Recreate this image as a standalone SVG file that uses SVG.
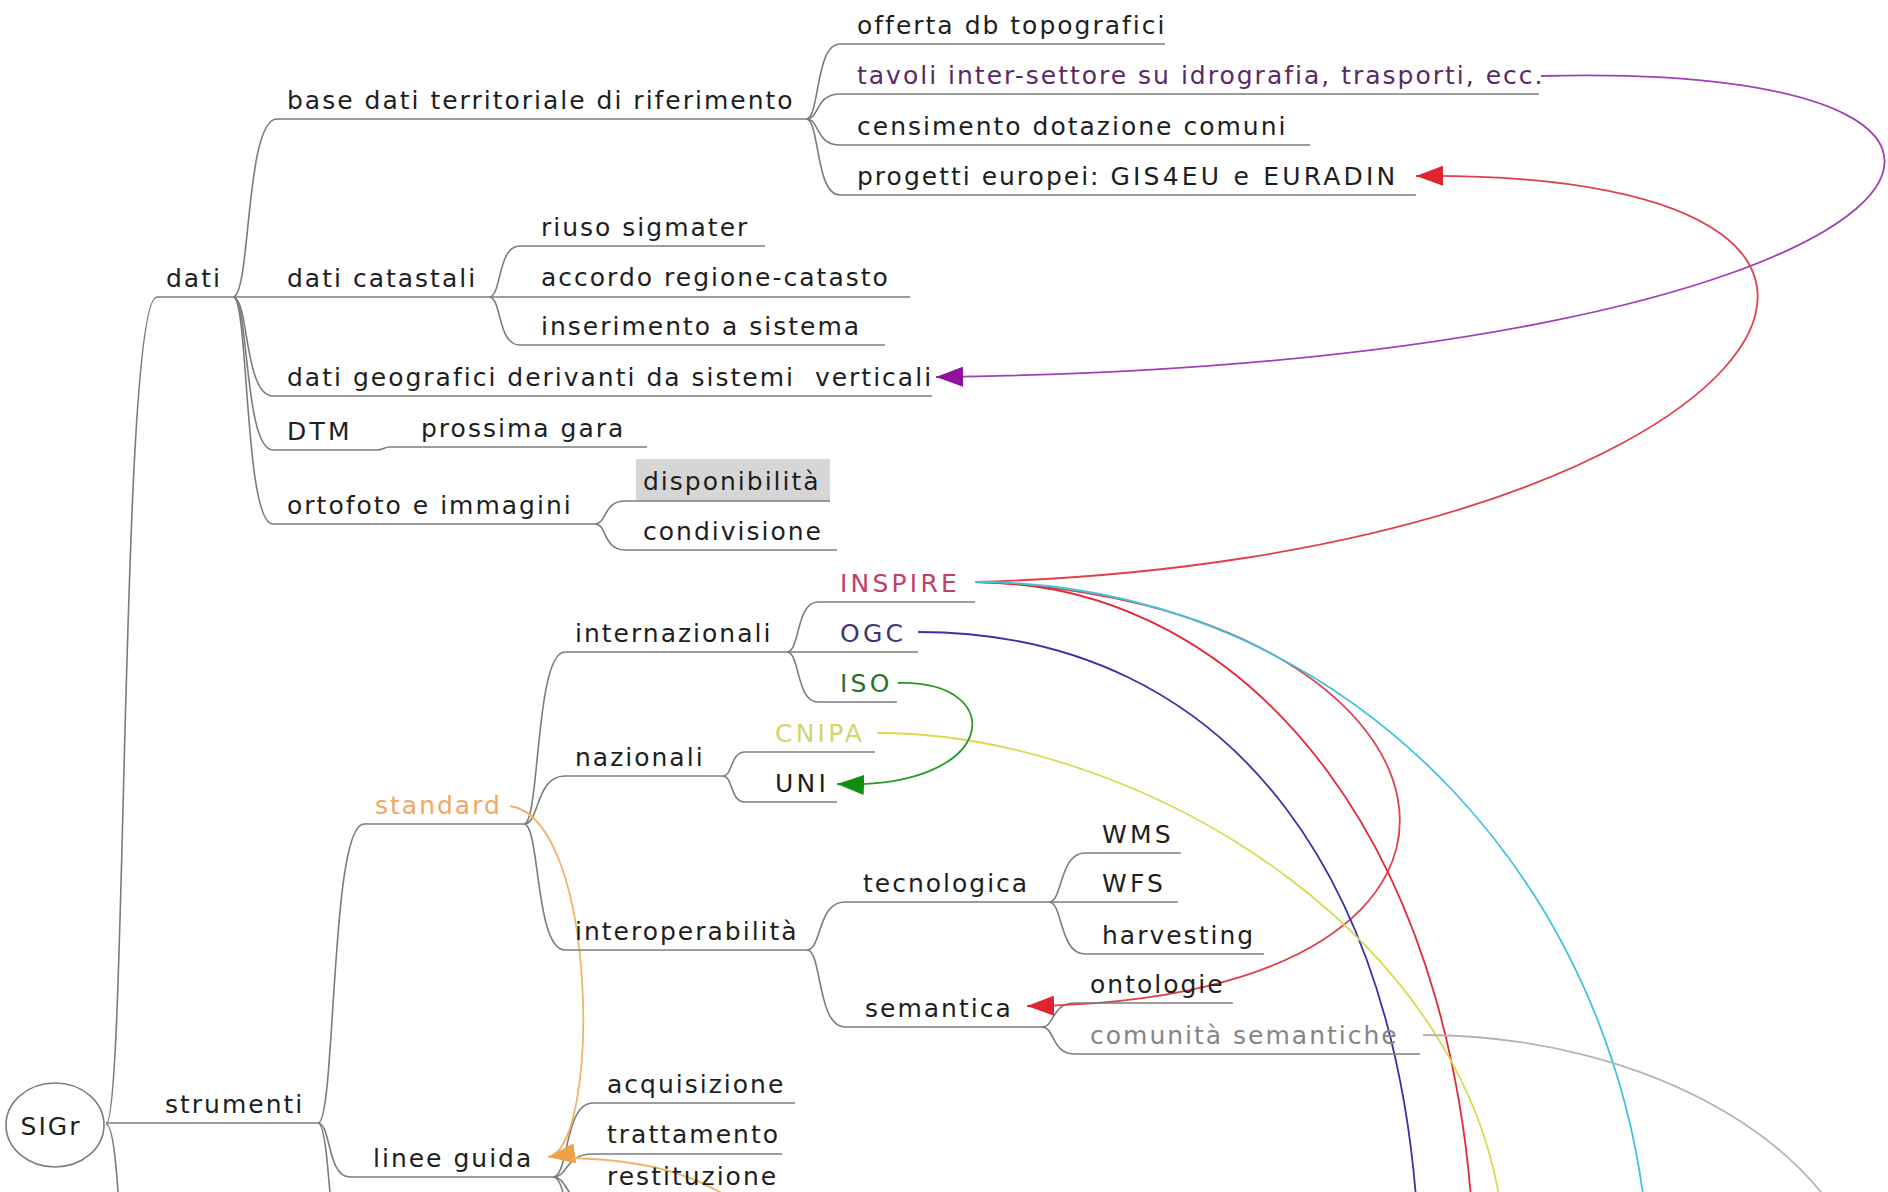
<svg xmlns="http://www.w3.org/2000/svg" width="1888" height="1192" viewBox="0 0 1888 1192">
<defs>
<style>
.t{font-family:"DejaVu Sans","Liberation Sans",sans-serif;font-size:25px;letter-spacing:2px;fill:#1e1e1e}
.caps{letter-spacing:3.2px}
.ul{fill:none;stroke:#7c7c7c;stroke-width:1.6}
.br{fill:none;stroke:#7c7c7c;stroke-width:1.6}
.rel{fill:none;stroke-width:1.8}
</style>
<marker id="aPurple" viewBox="0 0 27 20" refX="27" refY="10" markerWidth="27" markerHeight="20" markerUnits="userSpaceOnUse" orient="auto"><path d="M0,0 L27,10 L0,20 z" fill="#9010a0"/></marker>
<marker id="aRed" viewBox="0 0 27 20" refX="27" refY="10" markerWidth="27" markerHeight="20" markerUnits="userSpaceOnUse" orient="auto"><path d="M0,0 L27,10 L0,20 z" fill="#e02430"/></marker>
<marker id="aGreen" viewBox="0 0 27 20" refX="27" refY="10" markerWidth="27" markerHeight="20" markerUnits="userSpaceOnUse" orient="auto"><path d="M0,0 L27,10 L0,20 z" fill="#109010"/></marker>
<marker id="aOrange" viewBox="0 0 27 20" refX="27" refY="10" markerWidth="27" markerHeight="20" markerUnits="userSpaceOnUse" orient="auto"><path d="M0,0 L27,10 L0,20 z" fill="#f0a040"/></marker>
</defs>
<rect width="1888" height="1192" fill="#ffffff"/>

<g id="connectors">
<!-- tree branches -->
<path class="br" d="M106,1124 C127,1124 120,297 157,297"/>
<path class="br" d="M106,1124 C127,1124 118,1500 160,1500"/>
<path class="br" d="M233,297 C251,297 245,119 277,119"/>
<path class="br" d="M233,297 C249,297 244,396 273,396"/>
<path class="br" d="M233,297 C249,297 244,450 273,450"/>
<path class="br" d="M233,297 C249,297 244,524 273,524"/>
<path class="br" d="M806,119 C820,119 815,44 840,44"/>
<path class="br" d="M806,119 C820,119 815,94 840,94"/>
<path class="br" d="M806,119 C820,119 815,145 840,145"/>
<path class="br" d="M806,119 C820,119 815,195 840,195"/>
<path class="br" d="M489,297 C502,297 497,246 520,246"/>
<path class="br" d="M489,297 C502,297 497,345 520,345"/>
<path class="br" d="M377,450 C383,450 384,447 390,447"/>
<path class="br" d="M595,524 C607,524 603,501 625,501"/>
<path class="br" d="M595,524 C607,524 603,550 625,550"/>
<path class="br" d="M318,1123 C336,1123 330,824 364,824"/>
<path class="br" d="M318,1123 C331,1123 327,1177 350,1177"/>
<path class="br" d="M318,1123 C335,1123 330,1400 370,1400"/>
<path class="br" d="M524,824 C540,824 535,652 565,652"/>
<path class="br" d="M524,824 C540,824 535,776 565,776"/>
<path class="br" d="M524,824 C540,824 535,950 565,950"/>
<path class="br" d="M787,652 C800,652 796,602 818,602"/>
<path class="br" d="M787,652 C800,652 796,702 818,702"/>
<path class="br" d="M723,776 C733,776 730,752 745,752"/>
<path class="br" d="M723,776 C733,776 730,802 745,802"/>
<path class="br" d="M807,950 C822,950 817,902 845,902"/>
<path class="br" d="M807,950 C822,950 817,1027 845,1027"/>
<path class="br" d="M1049,902 C1063,902 1059,853 1085,853"/>
<path class="br" d="M1049,902 C1063,902 1059,954 1085,954"/>
<path class="br" d="M1042,1027 C1055,1027 1051,1003 1075,1003"/>
<path class="br" d="M1042,1027 C1055,1027 1051,1054 1075,1054"/>
<path class="br" d="M553,1177 C569,1177 564,1103 593,1103"/>
<path class="br" d="M553,1177 C569,1177 564,1154 593,1154"/>
<path class="br" d="M553,1177 C569,1177 564,1204 593,1204"/>
<path class="br" d="M553,1177 C569,1177 564,1254 593,1254"/>
<!-- relationships -->
<path class="rel" stroke="#a040b8" d="M1541,76 C2150,60 1950,365 936,377" marker-end="url(#aPurple)"/>
<path class="rel" stroke="#e0404c" d="M975,582 C1760,560 2040,170 1416,176" marker-end="url(#aRed)"/>
<path class="rel" stroke="#e0404c" d="M975,582 C1480,600 1580,1000 1027,1006" marker-end="url(#aRed)"/>
<path class="rel" stroke="#e02a36" d="M975,582 C1250,582 1475,850 1475,1300"/>
<path class="rel" stroke="#40c4e0" d="M975,582 C1350,582 1650,900 1650,1300"/>
<path class="rel" stroke="#3a30a8" d="M918,632 C1230,632 1420,880 1420,1300"/>
<path class="rel" stroke="#dada4a" d="M877,733 C1150,733 1500,950 1505,1260"/>
<path class="rel" stroke="#b4b4b4" d="M1423,1035 C1650,1035 1850,1150 1870,1300"/>
<path class="rel" stroke="#2a9a2a" d="M898,683 C1010,680 1000,790 837,784" marker-end="url(#aGreen)"/>
<path class="rel" stroke="#f2b468" d="M510,806 C600,820 600,1150 548,1157" marker-end="url(#aOrange)"/>
<path class="rel" stroke="#f2b468" d="M572,1158 C650,1160 720,1175 780,1240"/>
</g>

<g id="n-sigr"><ellipse cx="55" cy="1125" rx="49" ry="42" fill="#fff" stroke="#7c7c7c" stroke-width="1.6"/><text class="t" x="51" y="1135" text-anchor="middle">SIGr</text></g>
<g id="n-dati"><line class="ul" x1="157" y1="297" x2="233" y2="297"/><text class="t" x="166" y="287">dati</text></g>
<g id="n-strumenti"><line class="ul" x1="106" y1="1123" x2="318" y2="1123"/><text class="t" x="165" y="1113">strumenti</text></g>
<g id="n-base"><line class="ul" x1="277" y1="119" x2="806" y2="119"/><text class="t" x="287" y="109">base dati territoriale di riferimento</text></g>
<g id="n-catastali"><line class="ul" x1="233" y1="297" x2="489" y2="297"/><text class="t" x="287" y="287">dati catastali</text></g>
<g id="n-geografici"><line class="ul" x1="273" y1="396" x2="932" y2="396"/><text class="t" x="287" y="386" xml:space="preserve">dati geografici derivanti da sistemi  verticali</text></g>
<g id="n-dtm"><line class="ul" x1="273" y1="450" x2="377" y2="450"/><text class="t caps" x="287" y="440">DTM</text></g>
<g id="n-prossima"><line class="ul" x1="390" y1="447" x2="647" y2="447"/><text class="t" x="421" y="437">prossima gara</text></g>
<g id="n-ortofoto"><line class="ul" x1="273" y1="524" x2="595" y2="524"/><text class="t" x="287" y="514">ortofoto e immagini</text></g>
<g id="n-offerta"><line class="ul" x1="840" y1="44" x2="1165" y2="44"/><text class="t" x="857" y="34">offerta db topografici</text></g>
<g id="n-tavoli"><line class="ul" x1="840" y1="94" x2="1539" y2="94"/><text class="t" x="857" y="84" style="fill:#5a2a66">tavoli inter-settore su idrografia, trasporti, ecc.</text></g>
<g id="n-censimento"><line class="ul" x1="840" y1="145" x2="1310" y2="145"/><text class="t" x="857" y="135">censimento dotazione comuni</text></g>
<g id="n-progetti"><line class="ul" x1="840" y1="195" x2="1416" y2="195"/><text class="t" x="857" y="185">progetti europei: <tspan class="caps">GIS4EU e EURADIN</tspan></text></g>
<g id="n-riuso"><line class="ul" x1="520" y1="246" x2="765" y2="246"/><text class="t" x="541" y="236">riuso sigmater</text></g>
<g id="n-accordo"><line class="ul" x1="489" y1="297" x2="910" y2="297"/><text class="t" x="541" y="286">accordo regione-catasto</text></g>
<g id="n-inserimento"><line class="ul" x1="520" y1="345" x2="885" y2="345"/><text class="t" x="541" y="335">inserimento a sistema</text></g>
<g id="n-disponibilita"><rect x="636" y="459" width="194" height="42" fill="#d6d6d6"/><line class="ul" x1="625" y1="501" x2="830" y2="501"/><text class="t" x="643" y="490">disponibilità</text></g>
<g id="n-condivisione"><line class="ul" x1="625" y1="550" x2="837" y2="550"/><text class="t" x="643" y="540">condivisione</text></g>
<g id="n-standard"><line class="ul" x1="364" y1="824" x2="524" y2="824"/><text class="t" x="375" y="814" style="fill:#f0a860">standard</text></g>
<g id="n-internazionali"><line class="ul" x1="565" y1="652" x2="787" y2="652"/><text class="t" x="575" y="642">internazionali</text></g>
<g id="n-nazionali"><line class="ul" x1="565" y1="776" x2="723" y2="776"/><text class="t" x="575" y="766">nazionali</text></g>
<g id="n-interoperabilita"><line class="ul" x1="565" y1="950" x2="807" y2="950"/><text class="t" x="575" y="940">interoperabilità</text></g>
<g id="n-inspire"><line class="ul" x1="818" y1="602" x2="975" y2="602"/><text class="t caps" x="840" y="592" style="fill:#c0406a">INSPIRE</text></g>
<g id="n-ogc"><line class="ul" x1="787" y1="652" x2="918" y2="652"/><text class="t caps" x="840" y="642" style="fill:#3e3478">OGC</text></g>
<g id="n-iso"><line class="ul" x1="818" y1="702" x2="897" y2="702"/><text class="t caps" x="840" y="692" style="fill:#2f6e2f">ISO</text></g>
<g id="n-cnipa"><line class="ul" x1="745" y1="752" x2="875" y2="752"/><text class="t caps" x="775" y="742" style="fill:#d4d46a">CNIPA</text></g>
<g id="n-uni"><line class="ul" x1="745" y1="802" x2="837" y2="802"/><text class="t caps" x="775" y="792">UNI</text></g>
<g id="n-tecnologica"><line class="ul" x1="845" y1="902" x2="1049" y2="902"/><text class="t" x="863" y="892">tecnologica</text></g>
<g id="n-semantica"><line class="ul" x1="845" y1="1027" x2="1042" y2="1027"/><text class="t" x="865" y="1017">semantica</text></g>
<g id="n-wms"><line class="ul" x1="1085" y1="853" x2="1181" y2="853"/><text class="t caps" x="1102" y="843">WMS</text></g>
<g id="n-wfs"><line class="ul" x1="1049" y1="902" x2="1178" y2="902"/><text class="t caps" x="1102" y="892">WFS</text></g>
<g id="n-harvesting"><line class="ul" x1="1085" y1="954" x2="1264" y2="954"/><text class="t" x="1102" y="944">harvesting</text></g>
<g id="n-ontologie"><line class="ul" x1="1075" y1="1003" x2="1233" y2="1003"/><text class="t" x="1090" y="993">ontologie</text></g>
<g id="n-comunita"><line class="ul" x1="1075" y1="1054" x2="1420" y2="1054"/><text class="t" x="1090" y="1044" style="fill:#858585">comunità semantiche</text></g>
<g id="n-linee"><line class="ul" x1="350" y1="1177" x2="553" y2="1177"/><text class="t" x="373" y="1167">linee guida</text></g>
<g id="n-acquisizione"><line class="ul" x1="593" y1="1103" x2="795" y2="1103"/><text class="t" x="607" y="1093">acquisizione</text></g>
<g id="n-trattamento"><line class="ul" x1="593" y1="1154" x2="782" y2="1154"/><text class="t" x="607" y="1143">trattamento</text></g>
<g id="n-restituzione"><line class="ul" x1="593" y1="1204" x2="800" y2="1204"/><text class="t" x="607" y="1185">restituzione</text></g>
</svg>
